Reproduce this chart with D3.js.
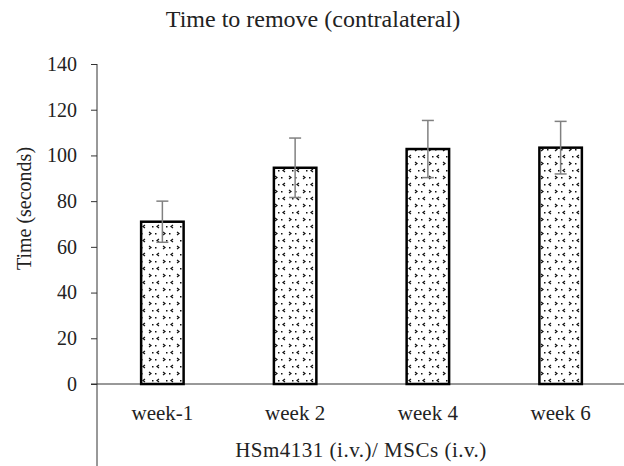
<!DOCTYPE html>
<html lang="en">
<head>
<meta charset="UTF-8">
<title>Time to remove (contralateral)</title>
<script src="https://d3js.org/d3.v7.min.js"></script>
<style>
  body { margin: 0; background: #fff; }
  text { font-family: "Liberation Serif", "Times New Roman", serif; fill: #222; }
</style>
</head>
<body>
<svg width="624" height="466"></svg>
<script>
// data
const categories = ['week-1', 'week 2', 'week 4', 'week 6'];
const values = [71, 94.6, 102.8, 103.4];
const errors = [9, 13, 12.5, 11.5];
const yTicks = [0, 20, 40, 60, 80, 100, 120, 140];

const svg = d3.select('svg');
const plotLeft = 97, plotRight = 627, plotTop = 64, plotBottom = 384;

const x = d3.scaleBand()
    .domain(categories)
    .range([plotLeft - 1, plotRight])
    .paddingInner(0.68)
    .paddingOuter(0.34);

const y = d3.scaleLinear()
    .domain([0, 140])
    .range([plotBottom, plotTop]);

// dotted fill pattern
const defs = svg.append('defs');
const pat = defs.append('pattern')
    .attr('id', 'dots')
    .attr('patternUnits', 'userSpaceOnUse')
    .attr('width', 14)
    .attr('height', 14);
pat.append('rect').attr('width', 14).attr('height', 14).attr('fill', '#fff');
pat.append('path')
    .attr('d', 'M5,1 L3,2.5 L5,4 M9,8 L11,9.5 L9,11')
    .attr('stroke', '#111').attr('stroke-width', 1.2).attr('fill', 'none');
pat.append('rect').attr('x', 1).attr('y', 9).attr('width', 1.5).attr('height', 1.5).attr('fill', '#111');
pat.append('rect').attr('x', 12).attr('y', 2).attr('width', 1.5).attr('height', 1.5).attr('fill', '#111');

// title
svg.append('text')
    .attr('x', 313)
    .attr('y', 27)
    .attr('text-anchor', 'middle')
    .attr('font-size', '24px')
    .text('Time to remove (contralateral)');

// y axis
const yAxis = d3.axisLeft(y)
    .tickValues(yTicks)
    .tickSize(6)
    .tickPadding(14);

const gy = svg.append('g')
    .attr('transform', `translate(${plotLeft},0)`)
    .call(yAxis);
gy.select('.domain').remove();
gy.selectAll('.tick line').attr('stroke', '#333');
gy.selectAll('.tick text')
    .attr('font-size', '20px')
    .attr('font-family', '"Liberation Serif", serif')
    .attr('fill', '#222');

// vertical axis line running to the bottom
svg.append('line')
    .attr('x1', plotLeft).attr('x2', plotLeft)
    .attr('y1', plotTop).attr('y2', 466)
    .attr('stroke', '#333');

// horizontal axis line
svg.append('line')
    .attr('x1', plotLeft - 6).attr('x2', 624)
    .attr('y1', y(0)).attr('y2', y(0))
    .attr('stroke', '#333');

// y axis label
svg.append('text')
    .attr('transform', 'translate(31,208.5) rotate(-90)')
    .attr('text-anchor', 'middle')
    .attr('font-size', '20px')
    .text('Time (seconds)');

// bars
svg.selectAll('.bar')
    .data(values)
    .enter()
    .append('rect')
    .attr('class', 'bar')
    .attr('x', (d, i) => x(categories[i]))
    .attr('y', d => y(d))
    .attr('width', x.bandwidth())
    .attr('height', d => y(0) - y(d))
    .attr('fill', 'url(#dots)')
    .attr('stroke', '#000')
    .attr('stroke-width', 2.5);

// error bars
const eb = svg.selectAll('.err')
    .data(values)
    .enter()
    .append('g')
    .attr('class', 'err')
    .attr('stroke', '#808080')
    .attr('stroke-width', 1.5);

eb.append('line')
    .attr('x1', (d, i) => x(categories[i]) + x.bandwidth() / 2)
    .attr('x2', (d, i) => x(categories[i]) + x.bandwidth() / 2)
    .attr('y1', (d, i) => y(d + errors[i]))
    .attr('y2', (d, i) => y(d - errors[i]));

[1, -1].forEach(s => {
    eb.append('line')
        .attr('x1', (d, i) => x(categories[i]) + x.bandwidth() / 2 - 6)
        .attr('x2', (d, i) => x(categories[i]) + x.bandwidth() / 2 + 6)
        .attr('y1', (d, i) => y(d + s * errors[i]))
        .attr('y2', (d, i) => y(d + s * errors[i]));
});

// category labels
svg.selectAll('.cat')
    .data(categories)
    .enter()
    .append('text')
    .attr('class', 'cat')
    .attr('x', d => x(d) + x.bandwidth() / 2)
    .attr('y', 420)
    .attr('text-anchor', 'middle')
    .attr('font-size', '21px')
    .text(d => d);

// x axis title
svg.append('text')
    .attr('x', 361)
    .attr('y', 456.5)
    .attr('text-anchor', 'middle')
    .attr('font-size', '21px')
    .attr('letter-spacing', '0.5px')
    .text('HSm4131 (i.v.)/ MSCs (i.v.)');
</script>
</body>
</html>
